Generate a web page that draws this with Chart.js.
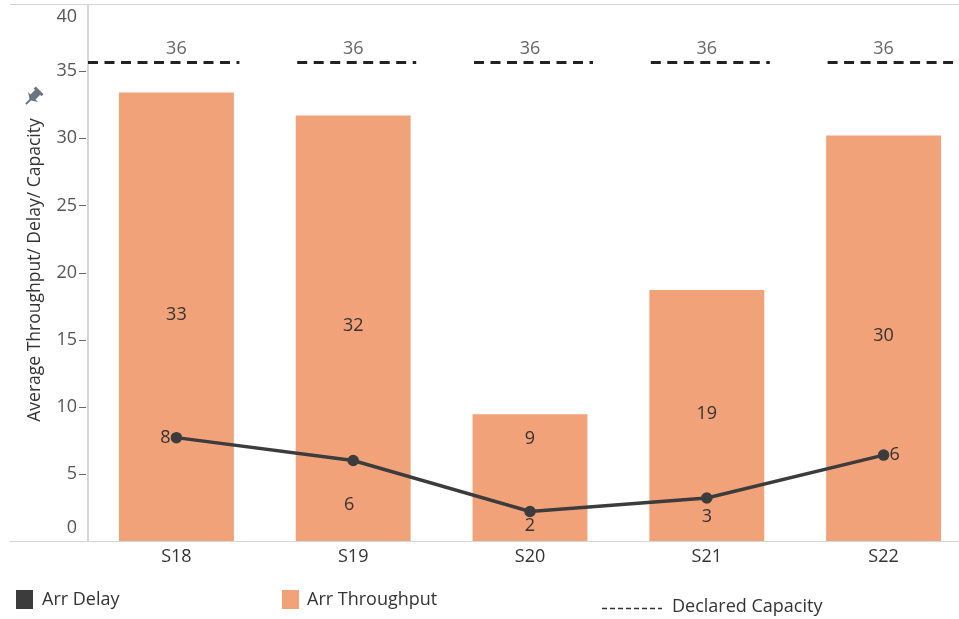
<!DOCTYPE html>
<html>
<head>
<meta charset="utf-8">
<script src="https://cdn.jsdelivr.net/npm/chart.js@4.4.1/dist/chart.umd.min.js"></script>
<style>
  html, body { margin: 0; padding: 0; background: #fff; overflow: hidden; width: 959px; height: 619px; }
  #wrap { position: relative; width: 972px; height: 619px; }
</style>
</head>
<body>
<div id="wrap"><canvas id="chart"></canvas></div>
<script>
// Seasons on the x axis
const seasons = ['S18', 'S19', 'S20', 'S21', 'S22'];
// Average arrival throughput per season
const arrThroughput = [33.4, 31.7, 9.45, 18.7, 30.2];
// Average arrival delay per season
const arrDelay = [7.7, 6.0, 2.2, 3.2, 6.4];
// Declared capacity per season
const declaredCapacity = [35.7, 35.7, 35.7, 35.7, 35.7];
// Value axis ticks
const yTicks = [0, 5, 10, 15, 20, 25, 30, 35, 40];

const FONT = '"Open Sans", "Noto Sans", sans-serif';
const BAR_COLOR = '#f2a279';
const LINE_COLOR = '#3c3c3c';
const TEXT_COLOR = '#333333';
const AXIS_TEXT = '#555555';

const fmt = v => String(Math.round(v));

// Frame, tick labels, value labels, capacity reference lines and legend
const decorations = {
  id: 'decorations',
  beforeDatasetsDraw(chart) {
    const { ctx, chartArea: a, scales: { x, y } } = chart;
    ctx.save();
    ctx.strokeStyle = '#d6d6d6';
    ctx.lineWidth = 1;
    ctx.beginPath();
    ctx.moveTo(10, Math.round(a.top) + 0.5); ctx.lineTo(chart.width, Math.round(a.top) + 0.5);
    ctx.moveTo(10, Math.round(a.bottom) + 0.5); ctx.lineTo(chart.width, Math.round(a.bottom) + 0.5);
    ctx.stroke();
    ctx.lineWidth = 2;
    ctx.beginPath();
    ctx.moveTo(a.left, a.top); ctx.lineTo(a.left, a.bottom);
    ctx.stroke();

    // y ticks and labels (end labels kept inside the plot)
    ctx.font = '18px ' + FONT;
    ctx.fillStyle = AXIS_TEXT;
    ctx.textAlign = 'right';
    ctx.textBaseline = 'middle';
    ctx.strokeStyle = '#666';
    ctx.lineWidth = 1;
    yTicks.forEach(t => {
      const py = y.getPixelForValue(t);
      const ly = Math.min(Math.max(py, a.top + 13), a.bottom - 13);
      ctx.fillText(String(t), a.left - 11, ly);
      if (t > y.min && t < y.max) {
        ctx.beginPath();
        ctx.moveTo(a.left - 9, Math.round(py) + 0.5);
        ctx.lineTo(a.left - 2, Math.round(py) + 0.5);
        ctx.stroke();
      }
    });

    // y axis title
    ctx.save();
    ctx.translate(35, 270);
    ctx.rotate(-Math.PI / 2);
    ctx.textAlign = 'center';
    ctx.fillStyle = TEXT_COLOR;
    ctx.font = '17.5px ' + FONT;
    ctx.fillText('Average Throughput/ Delay/ Capacity', 0, 0);
    ctx.restore();

    // pin glyph above the title
    ctx.save();
    ctx.translate(33, 97);
    ctx.rotate(Math.PI / 4);
    ctx.fillStyle = '#6b7480';
    ctx.beginPath();
    ctx.rect(-3.5, -8, 7, 8);
    ctx.moveTo(-7, 0); ctx.lineTo(7, 0); ctx.lineTo(0, 4.5); ctx.closePath();
    ctx.fill();
    ctx.fillRect(-1, 3, 2, 7);
    ctx.fillRect(-5.5, -9.5, 11, 3);
    ctx.restore();
    ctx.restore();
  },
  afterDatasetsDraw(chart) {
    const { ctx, chartArea: a, scales: { x, y } } = chart;
    ctx.save();

    // declared capacity: dashed segment per season with its value
    ctx.strokeStyle = '#222';
    ctx.lineWidth = 3;
    ctx.setLineDash([10, 6.5]);
    const n = seasons.length;
    declaredCapacity.forEach((c, i) => {
      const cx = x.getPixelForValue(i);
      const py = Math.round(y.getPixelForValue(c)) + 0.5;
      const x0 = i === 0 ? a.left : cx - 56;
      const x1 = i === n - 1 ? chart.width : cx + 63;
      ctx.beginPath();
      ctx.moveTo(x0, py); ctx.lineTo(x1, py);
      ctx.stroke();
      ctx.font = '18px ' + FONT;
      ctx.fillStyle = '#666';
      ctx.textAlign = 'center';
      ctx.textBaseline = 'middle';
      ctx.fillText(fmt(c), cx, py - 14);
    });
    ctx.setLineDash([]);

    // throughput labels
    ctx.font = '18px ' + FONT;
    ctx.fillStyle = TEXT_COLOR;
    ctx.textAlign = 'center';
    ctx.textBaseline = 'middle';
    const bars = chart.getDatasetMeta(0).data;
    arrThroughput.forEach((v, i) => {
      const b = bars[i];
      const h = b.base - b.y;
      const ly = h < 150 ? b.y + 25 : (b.y + b.base) / 2 - 2;
      ctx.fillText(fmt(v), b.x, ly);
    });

    // delay labels
    const pts = chart.getDatasetMeta(1).data;
    const place = [
      { dx: -11, dy: 0 }, { dx: -4, dy: 44 }, { dx: 0, dy: 14 },
      { dx: 0, dy: 19 }, { dx: 11, dy: 0 }
    ];
    arrDelay.forEach((v, i) => {
      const p = pts[i];
      ctx.fillText(fmt(v), p.x + place[i].dx, p.y + place[i].dy);
    });

    // legend
    ctx.textAlign = 'left';
    ctx.font = '18px ' + FONT;
    ctx.fillStyle = LINE_COLOR;
    ctx.fillRect(16, 590, 17, 19);
    ctx.fillStyle = TEXT_COLOR;
    ctx.fillText('Arr Delay', 42, 600);
    ctx.fillStyle = BAR_COLOR;
    ctx.fillRect(282, 590, 17, 19);
    ctx.fillStyle = TEXT_COLOR;
    ctx.fillText('Arr Throughput', 307, 600);
    ctx.strokeStyle = '#333';
    ctx.lineWidth = 1.5;
    ctx.setLineDash([5, 3]);
    ctx.beginPath();
    ctx.moveTo(602, 608.5); ctx.lineTo(662, 608.5);
    ctx.stroke();
    ctx.setLineDash([]);
    ctx.fillText('Declared Capacity', 672, 607);
    ctx.restore();
  }
};

new Chart(document.getElementById('chart'), {
  data: {
    labels: seasons,
    datasets: [
      {
        type: 'bar',
        label: 'Arr Throughput',
        data: arrThroughput,
        backgroundColor: BAR_COLOR,
        categoryPercentage: 1,
        barPercentage: 0.65,
        order: 2
      },
      {
        type: 'line',
        label: 'Arr Delay',
        data: arrDelay,
        borderColor: LINE_COLOR,
        backgroundColor: LINE_COLOR,
        borderWidth: 3.5,
        pointRadius: 4,
        pointHoverRadius: 4,
        tension: 0,
        order: 1
      }
    ]
  },
  options: {
    responsive: true,
    maintainAspectRatio: false,
    animation: false,
    layout: { autoPadding: false, padding: { top: 4, right: 0, left: 0, bottom: 0 } },
    plugins: { legend: { display: false }, tooltip: { enabled: false } },
    scales: {
      x: {
        grid: { display: false, drawTicks: false },
        border: { display: false },
        ticks: { color: TEXT_COLOR, font: { family: FONT, size: 18 }, padding: 5 },
        afterFit: s => { s.height = 78; }
      },
      y: {
        min: 0,
        max: 40,
        grid: { display: false },
        border: { display: false },
        ticks: { display: false },
        afterFit: s => { s.width = 88; }
      }
    }
  },
  plugins: [decorations]
});
</script>
</body>
</html>
